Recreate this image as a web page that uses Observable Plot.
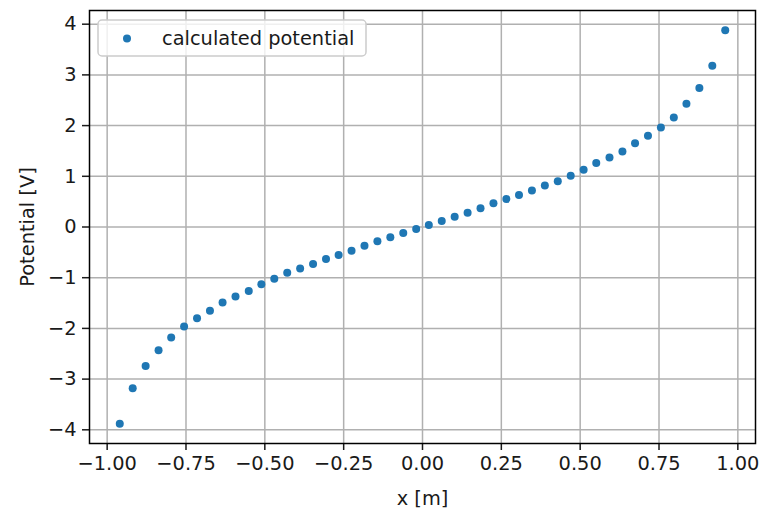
<!DOCTYPE html>
<html>
<head>
<meta charset="utf-8">
<script src="https://cdn.jsdelivr.net/npm/d3@7"></script>
<script src="https://cdn.jsdelivr.net/npm/@observablehq/plot@0.6"></script>
<style>
  html, body { margin: 0; padding: 0; background: #fff; }
  #chart { width: 766px; height: 514px; }
</style>
</head>
<body>
<div id="chart"></div>
<script>
// x positions [m]
const xs = [
  -0.960, -0.919, -0.878, -0.837, -0.797, -0.756, -0.715, -0.674,
  -0.634, -0.593, -0.551, -0.511, -0.470, -0.429, -0.388, -0.347,
  -0.306, -0.266, -0.225, -0.184, -0.143, -0.102, -0.061, -0.020,
   0.020,  0.061,  0.102,  0.143,  0.184,  0.225,  0.266,  0.306,
   0.347,  0.388,  0.429,  0.470,  0.511,  0.551,  0.593,  0.634,
   0.674,  0.715,  0.756,  0.797,  0.837,  0.878,  0.919,  0.960
];
// calculated potential [V]
const potential = [
  -3.88, -3.18, -2.74, -2.43, -2.18, -1.96, -1.80, -1.65,
  -1.49, -1.37, -1.26, -1.13, -1.02, -0.90, -0.82, -0.73,
  -0.63, -0.55, -0.47, -0.37, -0.28, -0.20, -0.12, -0.04,
   0.04,  0.12,  0.20,  0.28,  0.37,  0.47,  0.55,  0.63,
   0.72,  0.82,  0.90,  1.01,  1.13,  1.26,  1.37,  1.49,
   1.65,  1.80,  1.96,  2.16,  2.43,  2.74,  3.18,  3.88
];
const xTicks = [-1.00, -0.75, -0.50, -0.25, 0.00, 0.25, 0.50, 0.75, 1.00];
const yTicks = [-4, -3, -2, -1, 0, 1, 2, 3, 4];
const seriesName = "calculated potential";
const xLabel = "x [m]";
const yLabel = "Potential [V]";

const data = xs.map((x, i) => ({x, y: potential[i]}));

const blue = "#1f77b4";
const gridColor = "#b0b0b0";
const fontSize = 19.4;

const chart = Plot.plot({
  width: 766,
  height: 514,
  marginLeft: 89,
  marginRight: 11,
  marginTop: 10,
  marginBottom: 71,
  style: {fontFamily: "'DejaVu Sans', sans-serif", fontSize: fontSize + "px", color: "#1a1a1a", background: "#fff"},
  x: {domain: [-1.056, 1.056]},
  y: {domain: [-4.27, 4.27]},
  marks: [
    Plot.gridX(xTicks, {stroke: gridColor, strokeOpacity: 1, strokeWidth: 1.5}),
    Plot.gridY(yTicks, {stroke: gridColor, strokeOpacity: 1, strokeWidth: 1.5}),
    Plot.axisX(xTicks, {tickSize: 7, tickPadding: 6, strokeWidth: 1.5, tickFormat: d3.format(".2f"), fontSize: fontSize,
      label: xLabel, labelAnchor: "center", labelArrow: "none", labelOffset: 61}),
    Plot.axisY(yTicks, {tickSize: 7, tickPadding: 6, strokeWidth: 1.5, tickFormat: d3.format("d"), fontSize: fontSize,
      label: yLabel, labelAnchor: "center", labelArrow: "none", labelOffset: 69}),
    Plot.dot(data, {x: "x", y: "y", r: 4, fill: blue, stroke: "none"}),
    Plot.frame({stroke: "#000", strokeWidth: 1.5})
  ]
});

// legend (matplotlib-style, upper left)
const svg = d3.select(chart);
const lg = svg.append("g").attr("font-family", "'DejaVu Sans', sans-serif").attr("font-size", fontSize)
  .attr("text-anchor", "start");
lg.append("rect").attr("x", 98).attr("y", 20).attr("width", 268).attr("height", 36)
  .attr("rx", 4).attr("fill", "#fff").attr("fill-opacity", 0.8)
  .attr("stroke", "#cccccc").attr("stroke-width", 1.5);
lg.append("circle").attr("cx", 127).attr("cy", 38.5).attr("r", 4).attr("fill", blue);
lg.append("text").attr("x", 162).attr("y", 38.5).attr("dy", "0.35em").attr("text-anchor", "start")
  .attr("fill", "#1a1a1a").text(seriesName);

document.getElementById("chart").appendChild(chart);
</script>
</body>
</html>
